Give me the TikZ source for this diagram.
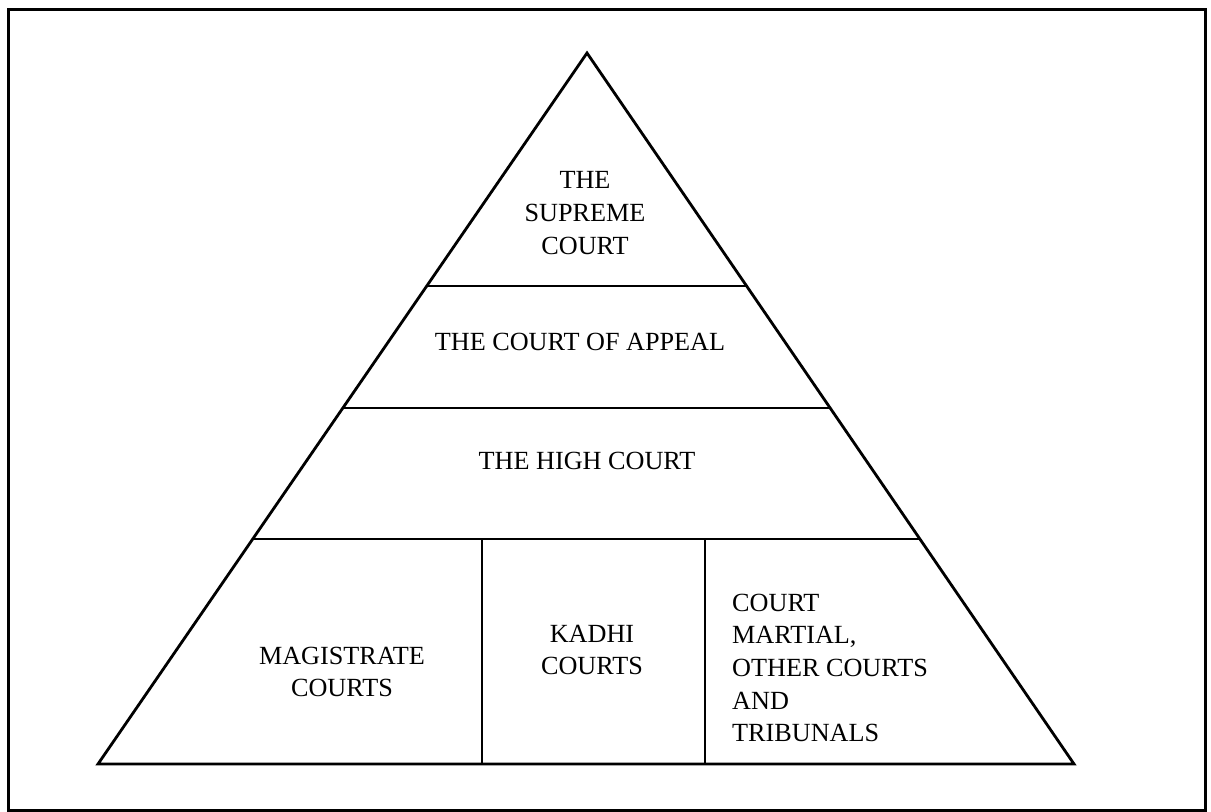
\documentclass[tikz,border=0pt]{standalone}
\usepackage{fontspec}
\setmainfont{Liberation Serif}
\usetikzlibrary{calc}
\begin{document}
\begin{tikzpicture}[x=1bp,y=-1bp,
  frame/.style={line width=3bp, line join=miter},
  tri/.style={line width=2.8bp, line join=miter},
  divider/.style={line width=2bp},
  lab/.style={inner sep=0pt, align=center, font=\fontsize{26.2bp}{32.6bp}\selectfont},
  labl/.style={inner sep=0pt, align=left, font=\fontsize{26.2bp}{32.6bp}\selectfont}]
\useasboundingbox (0,0) rectangle (1211,812);
% outer frame
\draw[frame] (8,10) rectangle (1205,810);
% pyramid corners
\coordinate (apex) at (587,53);
\coordinate (bl) at (98,764);
\coordinate (br) at (1074,764);
% divider end points on the sides
\coordinate (l1) at ($(apex)!0.3277!(bl)$);
\coordinate (r1) at ($(apex)!0.3277!(br)$);
\coordinate (l2) at ($(apex)!0.4993!(bl)$);
\coordinate (r2) at ($(apex)!0.4993!(br)$);
\coordinate (l3) at ($(apex)!0.6835!(bl)$);
\coordinate (r3) at ($(apex)!0.6835!(br)$);
\coordinate (v1t) at (482,539);
\coordinate (v1b) at (482,764);
\coordinate (v2t) at (705,539);
\coordinate (v2b) at (705,764);
% dividers
\draw[divider] (l1) -- (r1);
\draw[divider] (l2) -- (r2);
\draw[divider] (l3) -- (r3);
\draw[divider] (v1t) -- (v1b);
\draw[divider] (v2t) -- (v2b);
% triangle
\draw[tri] (apex) -- (bl) -- (br) -- cycle;
% labels
\node[lab] (supreme) at (585,213) {THE\\SUPREME\\COURT};
\node[lab] (appeal) at (580,341.5) {THE COURT OF APPEAL};
\node[lab] (high) at (587,461) {THE HIGH COURT};
\node[lab] (magis) at (342,672) {MAGISTRATE\\COURTS};
\node[lab] (kadhi) at (592,650) {KADHI\\COURTS};
\node[labl, anchor=west] (martial) at (732,668) {COURT\\MARTIAL,\\OTHER COURTS\\AND\\TRIBUNALS};
\end{tikzpicture}
\end{document}
